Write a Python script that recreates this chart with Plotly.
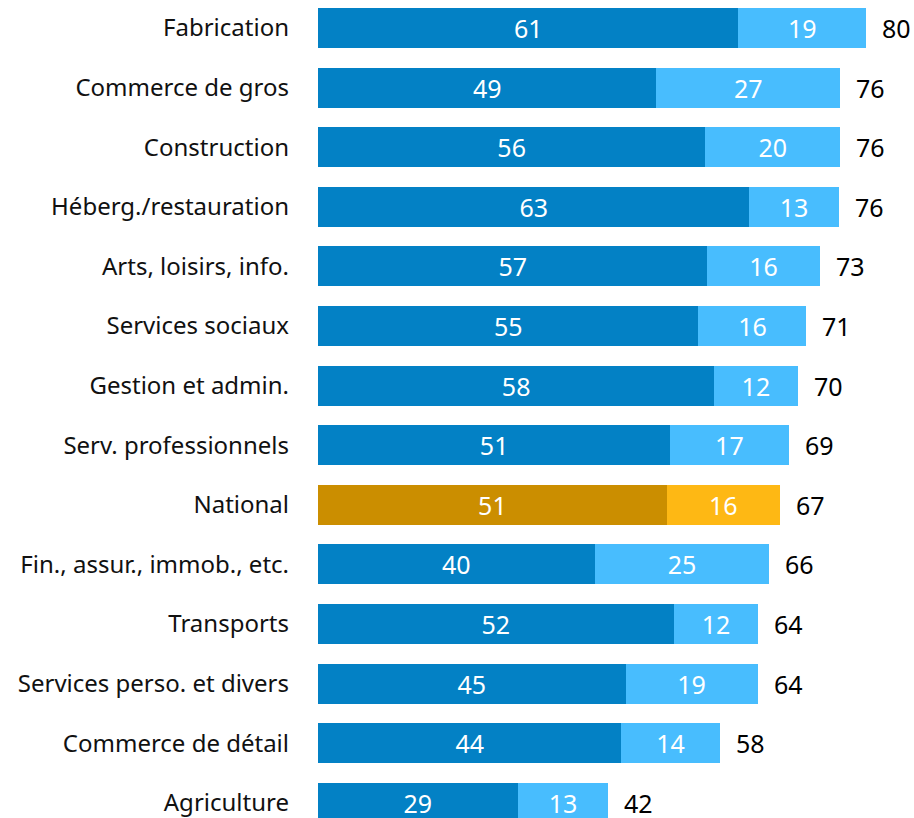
import plotly.graph_objects as go

categories = ["Fabrication", "Commerce de gros", "Construction", "Héberg./restauration",
              "Arts, loisirs, info.", "Services sociaux", "Gestion et admin.",
              "Serv. professionnels", "National", "Fin., assur., immob., etc.",
              "Transports", "Services perso. et divers", "Commerce de détail", "Agriculture"]
# segment values (estimated with one decimal from the bar lengths; shown rounded)
part1 = [61.1, 49.2, 56.3, 62.7, 56.6, 55.3, 57.6, 51.2, 50.7, 40.2, 51.7, 44.7, 44.1, 29.0]
part2 = [18.6, 26.7, 19.6, 13.0, 16.3, 15.7, 12.1, 17.2, 16.4, 25.4, 12.3, 19.2, 14.3, 13.2]
totals = [80, 76, 76, 76, 73, 71, 70, 69, 67, 66, 64, 64, 58, 42]

dark = ["#CB8E00" if c == "National" else "#0381C5" for c in categories]
light = ["#FEB814" if c == "National" else "#48BDFE" for c in categories]

FONT = "Noto Sans"
NUM = 25

fig = go.Figure()
for vals, cols in ((part1, dark), (part2, light)):
    fig.add_trace(go.Bar(y=categories, x=vals, orientation="h",
                         marker=dict(color=cols, line=dict(width=0)),
                         text=vals, texttemplate="%{x:.0f}", textposition="inside", textangle=0,
                         insidetextanchor="middle", constraintext="none",
                         textfont=dict(color="white", size=NUM, family=FONT),
                         width=0.67, hoverinfo="skip"))

for c, a, b, t in zip(categories, part1, part2, totals):
    fig.add_annotation(x=a + b, y=c, text=str(t), showarrow=False, xanchor="left",
                       xshift=14, font=dict(size=NUM, color="black", family=FONT))

fig.update_layout(
    barmode="stack", width=914, height=818, showlegend=False,
    margin=dict(l=318, r=0, t=0, b=0),
    plot_bgcolor="white", paper_bgcolor="white",
    uniformtext=dict(minsize=NUM, mode="show"),
    font=dict(family=FONT, size=24, color="#111111"),
)
fig.update_xaxes(range=[0, 86.63], visible=False, showgrid=False, zeroline=False)
fig.update_yaxes(categoryorder="array", categoryarray=categories, range=[13.255, -0.47],
                 showgrid=False, zeroline=False, showline=False, ticks="", ticklabelstandoff=28,
                 tickfont=dict(size=24, color="#111111", family=FONT))
fig.write_html("out.html", config={"displayModeBar": False},
               post_script="document.body.style.margin='0';document.body.style.overflow='hidden';")
